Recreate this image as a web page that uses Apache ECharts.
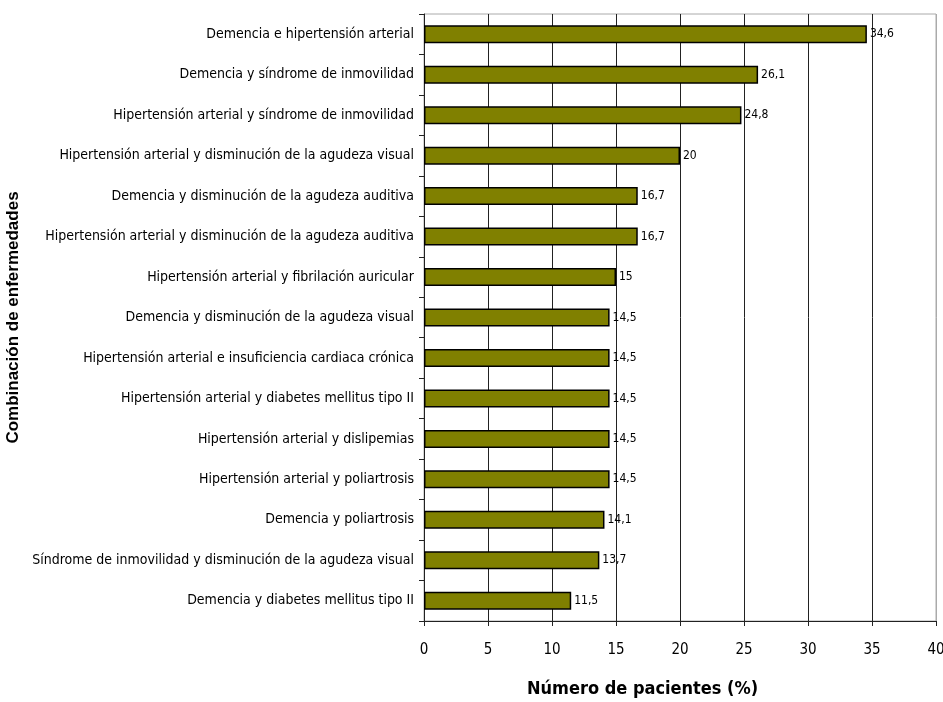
<!DOCTYPE html>
<html>
<head>
<meta charset="utf-8">
<script src="https://cdn.jsdelivr.net/npm/echarts@6/dist/echarts.min.js"></script>
<style>
html,body{margin:0;padding:0;background:#fff;}
#chart{width:943px;height:702px;}
</style>
</head>
<body>
<div id="chart"></div>
<script>
// Disease combinations, listed from top to bottom
const categories = [
  'Demencia e hipertensión arterial',
  'Demencia y síndrome de inmovilidad',
  'Hipertensión arterial y síndrome de inmovilidad',
  'Hipertensión arterial y disminución de la agudeza visual',
  'Demencia y disminución de la agudeza auditiva',
  'Hipertensión arterial y disminución de la agudeza auditiva',
  'Hipertensión arterial y fibrilación auricular',
  'Demencia y disminución de la agudeza visual',
  'Hipertensión arterial e insuficiencia cardiaca crónica',
  'Hipertensión arterial y diabetes mellitus tipo II',
  'Hipertensión arterial y dislipemias',
  'Hipertensión arterial y poliartrosis',
  'Demencia y poliartrosis',
  'Síndrome de inmovilidad y disminución de la agudeza visual',
  'Demencia y diabetes mellitus tipo II'
];
// Percentage of patients per combination
const values = [34.6, 26.1, 24.8, 20, 16.7, 16.7, 15, 14.5, 14.5, 14.5, 14.5, 14.5, 14.1, 13.7, 11.5];

const xTitle = 'Número de pacientes (%)';
const yTitle = 'Combinación de enfermedades';

const font = '"Liberation Sans Narrow", "DejaVu Sans Condensed", "Arial Narrow", sans-serif';

const chart = echarts.init(document.getElementById('chart'), null, {renderer: 'canvas'});
chart.setOption({
  animation: false,
  backgroundColor: '#fff',
  grid: {
    left: 424, right: 7, top: 14, bottom: 81,
    containLabel: false,
    outerBoundsMode: 'none',
    show: true, borderColor: '#aaa', borderWidth: 1
  },
  xAxis: {
    type: 'value',
    min: 0, max: 40, interval: 5,
    axisLine: {show: true, lineStyle: {color: '#222', width: 1}},
    axisTick: {show: true, length: 5, lineStyle: {color: '#222'}},
    axisLabel: {color: '#000', fontFamily: font, fontSize: 15, margin: 22},
    splitLine: {show: true, lineStyle: {color: ['#222','#222','#222','#222','#222','#222','#222','#222','#aaa'], width: 1}}
  },
  yAxis: {
    type: 'category',
    data: categories,
    inverse: true,
    axisLine: {show: true, lineStyle: {color: '#222', width: 1}},
    axisTick: {show: true, length: 5, lineStyle: {color: '#222'}},
    axisLabel: {color: '#000', fontFamily: font, fontSize: 14, margin: 10},
    name: yTitle,
    nameLocation: 'middle',
    nameRotate: 90,
    nameGap: 398,
    nameTextStyle: {color: '#000', fontFamily: 'Liberation Sans, Arial, sans-serif', fontWeight: 'bold', fontSize: 17}
  },
  series: [{
    type: 'bar',
    data: values,
    barWidth: 18,
    itemStyle: {color: '#808000', borderColor: '#000', borderWidth: 1.5},
    label: {
      show: true, position: 'right', distance: 3,
      color: '#000', fontFamily: font, fontSize: 12,
      formatter: p => String(p.value).replace('.', ',')
    }
  }],
  graphic: [{
    type: 'text',
    left: 527, top: 680,
    style: {text: xTitle, fill: '#000', font: 'bold 18px ' + font}
  }]
});
</script>
</body>
</html>
